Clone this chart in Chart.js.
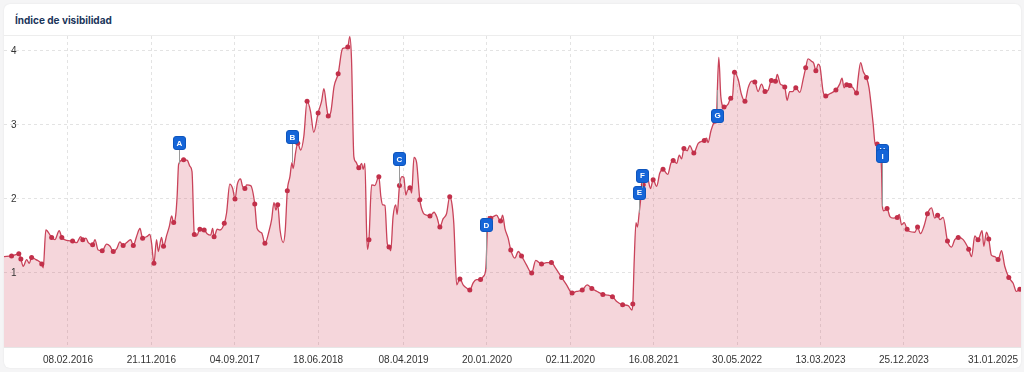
<!DOCTYPE html>
<html>
<head>
<meta charset="utf-8">
<script src="https://cdn.jsdelivr.net/npm/chart.js@4.4.1/dist/chart.umd.min.js"></script>
<style>
html,body{margin:0;padding:0;background:#f5f5f6;width:1024px;height:372px;overflow:hidden;}
.card{position:absolute;left:4px;top:4px;width:1017px;height:364px;background:#fff;border-radius:6px;box-shadow:0 0 2px rgba(0,0,0,0.08);}
.title{position:absolute;left:11px;top:10px;font:700 10px Inter, "Open Sans", sans-serif;color:#1a355a;white-space:nowrap;}
.sep{position:absolute;left:0;right:0;top:31px;height:1px;background:#ededed;}
.wrap{position:absolute;left:0;top:32px;width:1017px;height:332px;}
</style>
</head>
<body>
<div class="card">
  <div class="title">Índice de visibilidad</div>
  <div class="sep"></div>
  <div class="wrap"><canvas id="c"></canvas></div>
</div>
<script>
// Base date for day offsets: 08.02.2016
const baseDate = '08.02.2016';
const tickLabels = ['08.02.2016','21.11.2016','04.09.2017','18.06.2018','08.04.2019','20.01.2020','02.11.2020','16.08.2021','30.05.2022','13.03.2023','25.12.2023','31.01.2025'];
const yTicks = [1,2,3,4];

// Day offsets (from baseDate) of each weekly sample
const days = [
-220,-194,-177,-169,-162,-154,-142,-133,-125,-110,
-90,-85,-76,-56,-45,-30,-21,-4,16,30,
44,51,62,70,85,93,104,118,133,145,
156,168,179,190,202,216,225,236,248,257,
271,282,288,296,305,311,322,329,340,349,
357,364,371,376,381,398,411,420,427,435,
443,454,469,479,491,498,503,514,523,538,
546,557,567,575,583,594,601,609,615,629,
643,651,667,678,693,701,709,716,722,730,
741,748,755,764,771,775,784,791,801,812,
823,835,846,861,873,881,890,896,905,916,
930,945,963,970,976,984,991,1001,1011,1016,
1022,1028,1031,1036,1045,1056,1070,1077,1083,1091,
1099,1105,1111,1119,1128,1133,1141,1150,1156,1163,
1168,1177,1183,1191,1200,1211,1223,1234,1246,1260,
1271,1280,1291,1303,1314,1322,1328,1338,1349,1360,
1374,1383,1395,1406,1420,1429,1438,1446,1455,1464,
1475,1489,1496,1504,1515,1524,1538,1550,1561,1578,
1596,1610,1630,1647,1664,1676,1699,1716,1735,1750,
1770,1787,1803,1821,1841,1859,1874,1890,1909,1928,
1941,1944,1949,1955,1960,1966,1974,1980,1991,1997,
2005,2014,2026,2037,2048,2064,2075,2083,2095,2104,
2112,2120,2131,2140,2154,2169,2190,2198,2203,2213,
2226,2232,2235,2240,2247,2258,2272,2281,2286,2294,
2307,2318,2330,2341,2353,2364,2375,2387,2399,2410,
2421,2435,2441,2452,2467,2475,2484,2494,2505,2519,
2530,2539,2547,2559,2567,2574,2582,2588,2599,2608,
2622,2643,2656,2664,2671,2680,2691,2702,2714,2719,
2728,2737,2748,2757,2771,2778,2785,2794,2800,2803,
2808,2819,2829,2840,2854,2861,2869,2878,2888,2897,
2915,2924,2934,2946,2958,2972,2983,2993,3001,3012,
3027,3041,3052,3064,3081,3100,3110,3121,3132,3146,
3152,3161,3169,3178,3190,3201,3213,3224,3238,3253,
3264,3276,3280
];

// Visibility index values
const values = [
1.22,1.23,1.25,1.26,1.19,1.09,1.18,1.13,1.21,1.18,
1.12,1.07,1.58,1.48,1.45,1.57,1.48,1.44,1.43,1.41,
1.49,1.45,1.47,1.41,1.38,1.45,1.31,1.30,1.39,1.36,
1.29,1.33,1.42,1.37,1.41,1.45,1.37,1.49,1.60,1.47,
1.49,1.52,1.40,1.13,1.45,1.29,1.48,1.36,1.51,1.63,
1.77,1.68,1.78,2.05,2.47,2.53,2.52,2.44,2.37,1.52,
1.50,1.59,1.58,1.53,1.51,1.60,1.49,1.59,1.58,1.67,
1.81,2.20,2.14,2.00,2.20,2.27,2.17,2.14,2.19,2.18,
1.93,1.60,1.54,1.40,1.58,1.72,1.95,1.85,1.92,1.58,
1.41,1.58,2.11,2.30,2.49,2.41,2.64,2.75,2.66,2.85,
3.32,3.18,2.90,3.16,3.32,3.49,3.25,3.12,3.18,3.52,
3.69,4.03,4.05,4.19,3.88,2.57,2.50,2.42,2.48,2.40,
2.48,1.54,1.32,1.45,2.19,2.18,2.30,2.03,1.92,1.91,
1.40,1.35,1.30,1.76,1.92,1.79,2.18,2.30,2.29,2.05,
2.11,2.15,2.08,2.56,2.49,1.99,1.81,1.78,1.77,1.82,
1.74,1.62,1.73,1.80,2.03,1.92,1.67,0.84,0.92,0.84,
0.79,0.77,0.87,0.91,0.91,0.95,1.05,1.76,1.74,1.76,
1.78,1.70,1.78,1.60,1.47,1.31,1.20,1.29,1.23,1.11,
1.00,1.17,1.12,1.14,1.14,1.08,0.94,0.84,0.73,0.75,
0.77,0.84,0.79,0.75,0.71,0.70,0.68,0.61,0.57,0.56,
0.50,0.58,1.18,1.68,1.62,1.81,2.08,2.19,2.37,2.26,
2.14,2.26,2.17,2.35,2.40,2.33,2.48,2.52,2.48,2.59,
2.54,2.68,2.65,2.72,2.62,2.75,2.79,2.82,2.76,2.92,
3.05,3.10,3.47,3.91,3.38,3.24,3.28,3.36,3.34,3.71,
3.61,3.41,3.32,3.50,3.59,3.58,3.45,3.55,3.45,3.47,
3.60,3.59,3.68,3.55,3.51,3.33,3.45,3.45,3.50,3.44,
3.61,3.77,3.89,3.86,3.83,3.73,3.82,3.79,3.45,3.39,
3.42,3.47,3.55,3.63,3.50,3.54,3.53,3.50,3.43,3.61,
3.84,3.72,3.64,3.50,3.02,2.75,2.74,2.71,2.39,1.90,
1.84,1.87,1.76,1.74,1.75,1.79,1.65,1.68,1.59,1.56,
1.55,1.62,1.53,1.63,1.80,1.88,1.74,1.78,1.72,1.75,
1.43,1.35,1.45,1.48,1.45,1.32,1.22,1.50,1.45,1.57,
1.36,1.55,1.46,1.24,1.22,1.18,1.30,1.09,0.94,0.86,
0.75,0.78,0.77
];

// 1 = sample shown with a dot marker
const markedPoints = [
0,1,0,1,1,0,0,0,1,0,
1,0,0,1,0,0,1,0,1,0,
0,1,0,0,1,0,0,1,0,0,
1,0,0,1,0,0,1,0,0,1,
0,0,0,1,0,0,0,1,0,0,
0,1,0,0,0,1,0,0,0,1,
0,1,1,0,0,0,1,0,0,1,
0,0,0,1,0,0,0,1,0,0,
1,0,0,1,0,0,0,0,1,0,
0,0,1,0,0,0,0,1,0,0,
1,0,0,1,0,0,0,1,0,0,
1,0,1,0,0,0,0,1,0,0,
0,0,0,1,0,0,1,0,0,0,
0,1,0,0,0,0,1,0,0,0,
0,1,0,0,0,1,0,0,1,0,
0,1,0,0,1,0,0,0,1,0,
0,1,0,0,1,0,0,0,1,0,
0,1,0,0,0,1,0,0,1,0,
1,0,1,0,1,0,1,0,1,0,
1,0,1,0,1,0,1,0,1,0,
0,1,0,0,0,0,0,1,0,0,
0,1,0,0,1,0,0,1,0,0,
0,1,0,0,1,0,1,0,0,0,
1,0,0,0,0,1,0,1,0,1,
0,0,1,0,0,1,0,0,1,0,
1,1,0,0,1,0,0,0,1,0,
0,1,0,0,0,1,0,0,0,1,
0,1,0,0,0,1,1,0,1,0,
0,0,1,0,0,0,1,0,0,0,
0,1,0,0,1,0,0,0,1,0,
0,1,0,0,1,0,0,1,0,0,
1,0,0,1,0,1,0,0,1,0,
0,0,1,0,0,1,0,0,1,0,
0,1,0
];

// Event flags
const flagLetters   = ['A','B','C','D','E','F','G','H','I'];
const flagDays      = [381, 771, 1141, 1438, 1966, 1976, 2235, 2803, 2803];
const flagValues    = [2.47, 2.49, 2.18, 1.05, 1.81, 2.15, 3.47, 1.90, 1.90];
const flagBoxValues = [2.76, 2.84, 2.54, 1.65, 2.09, 2.32, 3.13, 2.66, 2.58];

function dayOffset(s){
  const p = s.split('.').map(Number), b = baseDate.split('.').map(Number);
  return Math.round((Date.UTC(p[2],p[1]-1,p[0]) - Date.UTC(b[2],b[1]-1,b[0]))/86400000);
}
const tickDays = tickLabels.map(dayOffset);
const points = days.map((d,i)=>({x:d, y:values[i]}));

const labelFont = '10px "Liberation Sans", Arial, sans-serif';

const axisLabelPlugin = {
  id:'axisLabels',
  afterDraw(chart){
    const {ctx, chartArea, scales:{x,y}} = chart;
    ctx.save();
    ctx.font = labelFont;
    ctx.fillStyle = '#333';
    ctx.textBaseline = 'middle';
    ctx.textAlign = 'center';
    tickLabels.forEach((lab,i)=>{
      let cx = x.getPixelForValue(tickDays[i]);
      const w = ctx.measureText(lab).width;
      cx = Math.min(cx, chartArea.right - 3 - w/2);
      ctx.fillText(lab, cx, chartArea.bottom + 13);
    });
    ctx.textAlign = 'left';
    yTicks.forEach(v=>{
      ctx.fillText(String(v), chartArea.left + 7, y.getPixelForValue(v));
    });
    ctx.restore();
  }
};

const flagPlugin = {
  id:'flags',
  afterDatasetsDraw(chart){
    const {ctx, scales:{x,y}} = chart;
    ctx.save();
    const w = 12, h = 13;
    flagLetters.forEach((L,i)=>{
      const px = Math.round(x.getPixelForValue(flagDays[i])) + 0.5;
      const py = y.getPixelForValue(flagValues[i]);
      const by = y.getPixelForValue(flagBoxValues[i]);
      const edge = by < py ? by + h/2 : by - h/2;
      ctx.strokeStyle = '#9a9a9a';
      ctx.lineWidth = 1;
      ctx.beginPath(); ctx.moveTo(px, edge); ctx.lineTo(px, py); ctx.stroke();
      ctx.fillStyle = '#1565d8';
      ctx.strokeStyle = '#0e55bd';
      ctx.beginPath();
      ctx.roundRect(px - w/2, Math.round(by - h/2) + 0.5, w, h, 2.5);
      ctx.fill(); ctx.stroke();
      ctx.fillStyle = '#fff';
      ctx.font = 'bold 8px "Liberation Sans", Arial, sans-serif';
      ctx.textAlign = 'center';
      ctx.textBaseline = 'middle';
      ctx.fillText(L, px, Math.round(by) + 1);
    });
    ctx.restore();
  }
};

new Chart(document.getElementById('c'), {
  type:'line',
  data:{datasets:[{
    data: points,
    borderColor:'#c9435a',
    borderWidth:1.3,
    backgroundColor:'rgba(210,70,90,0.22)',
    fill:'origin',
    cubicInterpolationMode:'monotone',
    pointRadius: ctx => markedPoints[ctx.dataIndex] ? 2.5 : 0,
    pointBackgroundColor:'#c2304a',
    pointBorderWidth:0,
    pointHoverRadius:0,
    clip:{left:0, right:4, top:4, bottom:0}
  }]},
  options:{
    responsive:true,
    maintainAspectRatio:false,
    animation:false,
    devicePixelRatio:1,
    layout:{padding:{left:0,right:0,top:0,bottom:21}},
    plugins:{legend:{display:false}, tooltip:{enabled:false}},
    scales:{
      x:{
        type:'linear',
        min:-220, max:3280,
        afterBuildTicks: s => { s.ticks = tickDays.map(v=>({value:v})); },
        ticks:{display:false},
        grid:{color:'#e3e3e3', drawTicks:false},
        border:{display:true, color:'#e6e6e6', dash:[3,3]}
      },
      y:{
        min:0, max:4.2,
        afterBuildTicks: s => { s.ticks = yTicks.map(v=>({value:v})); },
        ticks:{display:false},
        grid:{color:'#e3e3e3', drawTicks:false},
        border:{display:false, dash:[3,3]}
      }
    }
  },
  plugins:[axisLabelPlugin, flagPlugin]
});
</script>
</body>
</html>
